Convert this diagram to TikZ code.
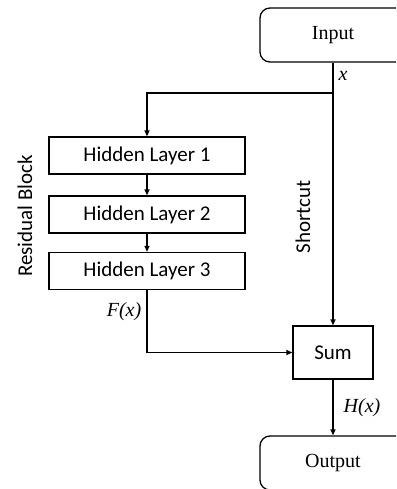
\documentclass[tikz,border=0pt]{standalone}
\usepackage{fontspec}
\setmainfont{Liberation Serif}
\newfontfamily\carlitofont{Carlito}
\usetikzlibrary{arrows.meta,positioning}
\begin{document}
\begin{tikzpicture}[x=1pt,y=-1pt,
  line width=1.3pt,
  sansfont/.style={font=\carlitofont\fontsize{21}{22}\selectfont},
  layer/.style={draw,rectangle,minimum width=196pt,minimum height=37pt,inner sep=0pt,sansfont},
  term/.style={draw,rounded corners=10pt,minimum width=146pt,minimum height=54pt,inner sep=0pt,font=\fontsize{20}{21}\selectfont},
  arr/.style={-{Triangle[length=6pt,width=5pt]}},
  lab/.style={font=\itshape\fontsize{20}{21}\selectfont}]
\clip (0,0) rectangle (396,489);
\node[term] (in) at (333,35) {Input};
\node[term] (out) at (333,463) {Output};
\node[layer] (h1) at (147,155.5) {Hidden Layer 1};
\node[layer] (h2) at (147,214.5) {Hidden Layer 2};
\node[layer] (h3) at (147,271) {Hidden Layer 3};
\node[draw,minimum width=80pt,minimum height=53pt,inner sep=0pt,sansfont] (sum) at (333,352.5) {Sum};
\coordinate (split) at (333,93);
\draw[arr] (in.south) -- (sum.north);
\draw[arr] (split) -| (h1.north);
\draw[arr] (h1) -- (h2);
\draw[arr] (h2) -- (h3);
\draw[arr] (h3.south) |- (sum.west);
\draw[arr] (sum.south) -- (out.north);
\node[lab] (xl) at (343,76) {x};
\node[lab] (fx) at (124,312) {F(x)};
\node[lab] (hx) at (362,408) {H(x)};
\node[rotate=90,sansfont] (rb) at (25,216) {Residual Block};
\node[rotate=90,sansfont] (sc) at (303,217) {Shortcut};
\end{tikzpicture}
\end{document}
